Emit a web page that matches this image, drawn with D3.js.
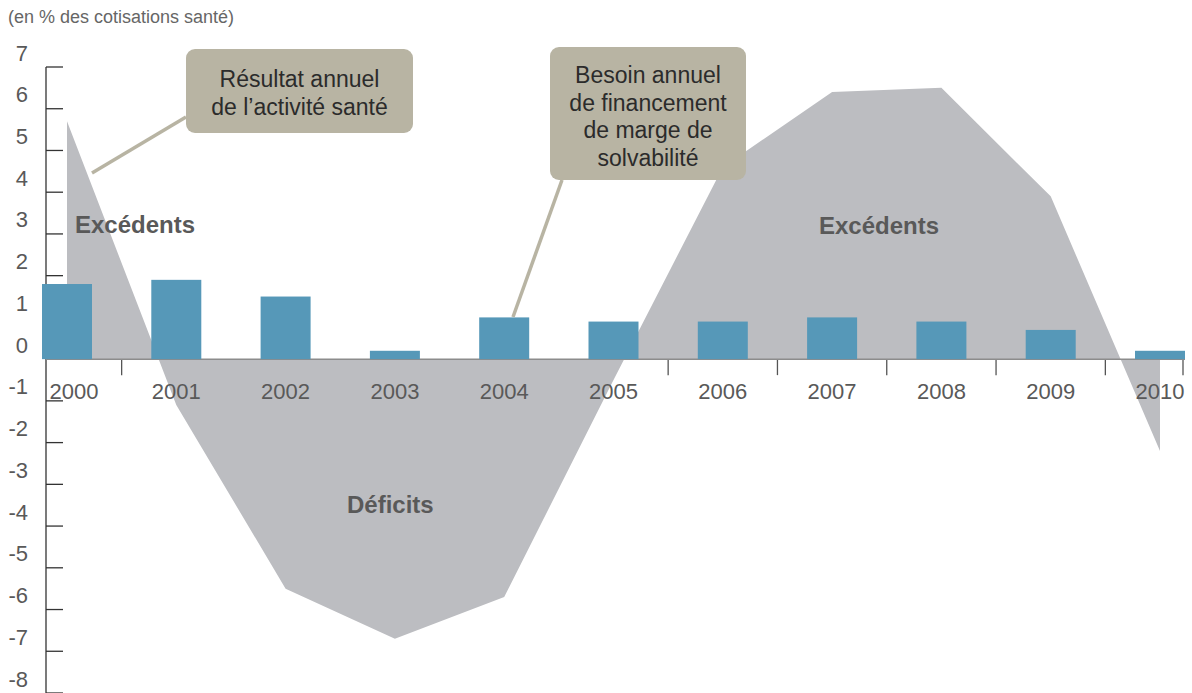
<!DOCTYPE html>
<html>
<head>
<meta charset="utf-8">
<script src="https://cdn.jsdelivr.net/npm/d3@7"></script>
<style>
    body { margin: 0; background: #ffffff; }
    svg text { font-family: "Liberation Sans", Arial, sans-serif; }
</style>
</head>
<body>
<div id="chart-area"></div>
<script>

// years on the x axis
const years = ["2000", "2001", "2002", "2003", "2004", "2005", "2006", "2007", "2008", "2009", "2010"];

// grey area : annual result of the health activity
const resultValues = [5.7, -1.1, -5.5, -6.7, -5.7, -0.5, 4.6, 6.4, 6.5, 3.9, -2.2];

// blue bars : annual solvency margin financing need
const needValues = [1.8, 1.9, 1.5, 0.2, 1.0, 0.9, 0.9, 1.0, 0.9, 0.7, 0.2];

// y axis ticks
const yTickValues = [-8, -7, -6, -5, -4, -3, -2, -1, 0, 1, 2, 3, 4, 5, 6, 7];

const unitLabel = "(en % des cotisations santé)";
const boxResult = ["Résultat annuel", "de l’activité santé"];
const boxNeed = ["Besoin annuel", "de financement", "de marge de", "solvabilité"];


class SanteVis {

    constructor(parentElement) {
        this.parentElement = parentElement;
        this.initVis();
    }

    initVis() {
        let vis = this;

        vis.width = 1192;
        vis.height = 693;

        vis.svg = d3.select("#" + vis.parentElement).append("svg")
            .attr("width", vis.width)
            .attr("height", vis.height);

        vis.axisX = 46;   // position of the vertical axis line

        vis.x = d3.scalePoint()
            .domain(years)
            .range([67, 1160]);

        vis.y = d3.scaleLinear()
            .domain([-8, 7])
            .range([693, 67]);

        vis.textColor = "#595959";

        vis.wrangleData();
    }

    wrangleData() {
        let vis = this;

        vis.areaData = years.map((year, i) => ({year: year, value: resultValues[i]}));
        vis.barData = years.map((year, i) => ({year: year, value: needValues[i]}));

        vis.updateVis();
    }

    updateVis() {
        let vis = this;
        let x = vis.x, y = vis.y;
        let step = x.step();

        // unit title
        vis.svg.append("text")
            .attr("x", 8)
            .attr("y", 23)
            .attr("font-size", 18)
            .attr("fill", "#666666")
            .text(unitLabel);

        // y axis line + ticks
        vis.svg.append("line")
            .attr("x1", vis.axisX).attr("x2", vis.axisX)
            .attr("y1", y(7)).attr("y2", y(-8))
            .attr("stroke", "#333333")
            .attr("stroke-width", 1.3);

        vis.svg.selectAll(".y-tick")
            .data(yTickValues)
            .enter()
            .append("line")
            .attr("class", "y-tick")
            .attr("x1", vis.axisX).attr("x2", vis.axisX + 17)
            .attr("y1", d => y(d)).attr("y2", d => y(d))
            .attr("stroke", "#333333")
            .attr("stroke-width", 1.3);

        vis.svg.selectAll(".y-label")
            .data(yTickValues)
            .enter()
            .append("text")
            .attr("class", "y-label")
            .attr("x", 28)
            .attr("y", d => y(d) - 6.5)
            .attr("text-anchor", "end")
            .attr("font-size", 22)
            .attr("fill", vis.textColor)
            .text(d => d);

        // ticks between the years, and one closing the axis (drawn under the area)
        let xTicks = years.slice(0, -1).map(d => x(d) + step / 2);
        xTicks.push(x(years[years.length - 1]) + 23);

        vis.svg.selectAll(".x-tick")
            .data(xTicks)
            .enter()
            .append("line")
            .attr("class", "x-tick")
            .attr("x1", d => d).attr("x2", d => d)
            .attr("y1", y(0)).attr("y2", y(0) + 16)
            .attr("stroke", "#555555")
            .attr("stroke-width", 1.3);

        // grey area
        let area = d3.area()
            .x(d => x(d.year))
            .y0(y(0))
            .y1(d => y(d.value));

        vis.svg.append("path")
            .datum(vis.areaData)
            .attr("d", area)
            .attr("fill", "#bcbdc1");

        // x baseline
        vis.svg.append("line")
            .attr("x1", vis.axisX).attr("x2", x(years[years.length - 1]) + 25)
            .attr("y1", y(0)).attr("y2", y(0))
            .attr("stroke", "#8c8c8c")
            .attr("stroke-width", 1.5);

        // bars
        let barWidth = 50;
        vis.svg.selectAll(".bar")
            .data(vis.barData)
            .enter()
            .append("rect")
            .attr("class", "bar")
            .attr("x", d => x(d.year) - barWidth / 2)
            .attr("y", d => y(d.value))
            .attr("width", barWidth)
            .attr("height", d => y(0) - y(d.value))
            .attr("fill", "#5698b8");

        // year labels
        vis.svg.selectAll(".x-label")
            .data(years)
            .enter()
            .append("text")
            .attr("class", "x-label")
            .attr("x", d => Math.max(x(d), vis.axisX + 28))
            .attr("y", y(0) + 40)
            .attr("text-anchor", "middle")
            .attr("font-size", 22)
            .attr("fill", vis.textColor)
            .text(d => d);

        // area labels
        let bigLabels = [
            {text: "Excédents", x: 75, y: 233},
            {text: "Déficits", x: 347, y: 513},
            {text: "Excédents", x: 819, y: 234}
        ];
        vis.svg.selectAll(".big-label")
            .data(bigLabels)
            .enter()
            .append("text")
            .attr("class", "big-label")
            .attr("x", d => d.x)
            .attr("y", d => d.y)
            .attr("font-size", 24)
            .attr("font-weight", "bold")
            .attr("fill", vis.textColor)
            .text(d => d.text);

        // annotation boxes
        vis.drawCallout({x: 186, y: 49, w: 227, h: 84}, boxResult, 87, 28, [186, 117, 92, 173]);
        vis.drawCallout({x: 550, y: 47, w: 196, h: 133}, boxNeed, 83, 27.6, [562, 180, 513, 317]);
    }

    drawCallout(box, lines, firstBaseline, lineHeight, link) {
        let vis = this;
        let color = "#b8b4a3";

        let g = vis.svg.append("g").attr("class", "callout");

        g.append("line")
            .attr("x1", link[0]).attr("y1", link[1])
            .attr("x2", link[2]).attr("y2", link[3])
            .attr("stroke", color)
            .attr("stroke-width", 3.5);

        g.append("rect")
            .attr("x", box.x)
            .attr("y", box.y)
            .attr("width", box.w)
            .attr("height", box.h)
            .attr("rx", 9)
            .attr("fill", color);

        g.selectAll("text")
            .data(lines)
            .enter()
            .append("text")
            .attr("x", box.x + box.w / 2)
            .attr("y", (d, i) => firstBaseline + i * lineHeight)
            .attr("text-anchor", "middle")
            .attr("font-size", 23)
            .attr("fill", "#2b2b2b")
            .text(d => d);
    }
}

new SanteVis("chart-area");

</script>
</body>
</html>
